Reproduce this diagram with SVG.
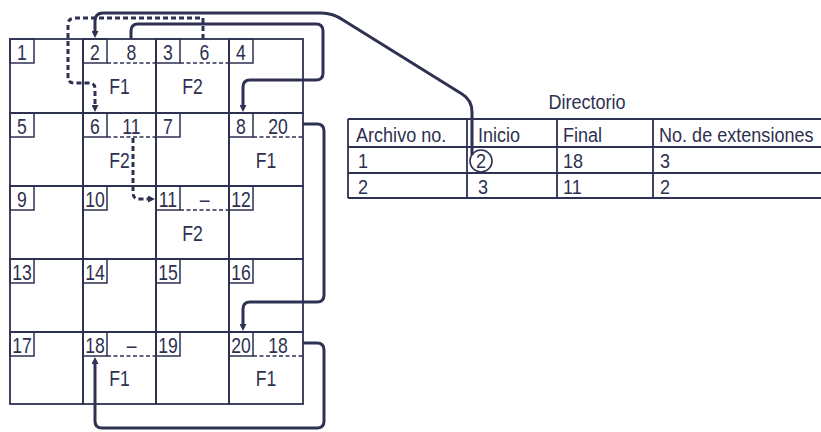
<svg xmlns="http://www.w3.org/2000/svg" width="821" height="432" viewBox="0 0 821 432">
<style>
.bg{fill:#ffffff}
.cell{fill:none;stroke:#2e3152;stroke-width:1.8}
.box{fill:none;stroke:#2e3152;stroke-width:1.5}
.dash{fill:none;stroke:#2e3152;stroke-width:1.5;stroke-dasharray:4 2.5}
.t{font-family:"Liberation Sans",Arial,sans-serif;font-size:22px;fill:#2e3050;text-anchor:middle;transform-box:fill-box;transform-origin:center;transform:scaleX(0.8)}
.ts{font-family:"Liberation Sans",Arial,sans-serif;font-size:21px;fill:#2e3050;text-anchor:start;transform-box:fill-box;transform-origin:left center;transform:scaleX(0.86)}
.tm{font-family:"Liberation Sans",Arial,sans-serif;font-size:21px;fill:#2e3050;text-anchor:middle;transform-box:fill-box;transform-origin:center;transform:scaleX(0.86)}
.tl{fill:none;stroke:#2e3152;stroke-width:1.8}
.conn{fill:none;stroke:#2e3152;stroke-width:3;stroke-linejoin:round}
.conn-d{fill:none;stroke:#2e3152;stroke-width:3;stroke-dasharray:5 3}
</style>
<defs>
<marker id="ah" viewBox="0 0 10 10" refX="0" refY="5" markerWidth="8" markerHeight="7" markerUnits="userSpaceOnUse" orient="auto">
<path d="M0,0 L10,5 L0,10 z" fill="#2e3152"/>
</marker>
</defs>
<rect class="bg" x="0" y="0" width="821" height="432"/>

<g id="cell1"><rect class="cell" x="10" y="39" width="73" height="74"/><rect class="box" x="10" y="39" width="24" height="24"/><text class="t" x="22" y="60">1</text></g>
<g id="cell2"><rect class="cell" x="83" y="39" width="73" height="74"/><rect class="box" x="83" y="39" width="24" height="24"/><text class="t" x="95" y="60">2</text><text class="t" x="131.5" y="60">8</text><line class="dash" x1="107" y1="63" x2="156" y2="63"/><text class="t" x="119.5" y="94">F1</text></g>
<g id="cell3"><rect class="cell" x="156" y="39" width="73" height="74"/><rect class="box" x="156" y="39" width="24" height="24"/><text class="t" x="168" y="60">3</text><text class="t" x="204.5" y="60">6</text><line class="dash" x1="180" y1="63" x2="229" y2="63"/><text class="t" x="192.5" y="94">F2</text></g>
<g id="cell4"><rect class="cell" x="229" y="39" width="74" height="74"/><rect class="box" x="229" y="39" width="24" height="24"/><text class="t" x="241" y="60">4</text></g>

<g id="cell5"><rect class="cell" x="10" y="113" width="73" height="73"/><rect class="box" x="10" y="113" width="24" height="24"/><text class="t" x="22" y="134">5</text></g>
<g id="cell6"><rect class="cell" x="83" y="113" width="73" height="73"/><rect class="box" x="83" y="113" width="24" height="24"/><text class="t" x="95" y="134">6</text><text class="t" x="131.5" y="134">11</text><line class="dash" x1="107" y1="137" x2="156" y2="137"/><text class="t" x="119.5" y="168">F2</text></g>
<g id="cell7"><rect class="cell" x="156" y="113" width="73" height="73"/><rect class="box" x="156" y="113" width="24" height="24"/><text class="t" x="168" y="134">7</text></g>
<g id="cell8"><rect class="cell" x="229" y="113" width="74" height="73"/><rect class="box" x="229" y="113" width="24" height="24"/><text class="t" x="241" y="134">8</text><text class="t" x="278" y="134">20</text><line class="dash" x1="253" y1="137" x2="303" y2="137"/><text class="t" x="266" y="168">F1</text></g>

<g id="cell9"><rect class="cell" x="10" y="186" width="73" height="73"/><rect class="box" x="10" y="186" width="24" height="24"/><text class="t" x="22" y="207">9</text></g>
<g id="cell10"><rect class="cell" x="83" y="186" width="73" height="73"/><rect class="box" x="83" y="186" width="24" height="24"/><text class="t" x="95" y="207">10</text></g>
<g id="cell11"><rect class="cell" x="156" y="186" width="73" height="73"/><rect class="box" x="156" y="186" width="24" height="24"/><text class="t" x="168" y="207">11</text><text class="t" x="204.5" y="207">–</text><line class="dash" x1="180" y1="210" x2="229" y2="210"/><text class="t" x="192.5" y="241">F2</text></g>
<g id="cell12"><rect class="cell" x="229" y="186" width="74" height="73"/><rect class="box" x="229" y="186" width="24" height="24"/><text class="t" x="241" y="207">12</text></g>

<g id="cell13"><rect class="cell" x="10" y="259" width="73" height="73"/><rect class="box" x="10" y="259" width="24" height="24"/><text class="t" x="22" y="280">13</text></g>
<g id="cell14"><rect class="cell" x="83" y="259" width="73" height="73"/><rect class="box" x="83" y="259" width="24" height="24"/><text class="t" x="95" y="280">14</text></g>
<g id="cell15"><rect class="cell" x="156" y="259" width="73" height="73"/><rect class="box" x="156" y="259" width="24" height="24"/><text class="t" x="168" y="280">15</text></g>
<g id="cell16"><rect class="cell" x="229" y="259" width="74" height="73"/><rect class="box" x="229" y="259" width="24" height="24"/><text class="t" x="241" y="280">16</text></g>

<g id="cell17"><rect class="cell" x="10" y="332" width="73" height="72"/><rect class="box" x="10" y="332" width="24" height="24"/><text class="t" x="22" y="353">17</text></g>
<g id="cell18"><rect class="cell" x="83" y="332" width="73" height="72"/><rect class="box" x="83" y="332" width="24" height="24"/><text class="t" x="95" y="353">18</text><text class="t" x="131.5" y="353">–</text><line class="dash" x1="107" y1="356" x2="156" y2="356"/><text class="t" x="119.5" y="386">F1</text></g>
<g id="cell19"><rect class="cell" x="156" y="332" width="73" height="72"/><rect class="box" x="156" y="332" width="24" height="24"/><text class="t" x="168" y="353">19</text></g>
<g id="cell20"><rect class="cell" x="229" y="332" width="74" height="72"/><rect class="box" x="229" y="332" width="24" height="24"/><text class="t" x="241" y="353">20</text><text class="t" x="278" y="353">18</text><line class="dash" x1="253" y1="356" x2="303" y2="356"/><text class="t" x="266" y="386">F1</text></g>

<g id="directorio">
<text class="tm" x="587" y="109">Directorio</text>
<path class="tl" d="M348,119 H821 M348,147 H821 M348,173 H821 M348,198 H821 M348,119 V198 M467,119 V198 M557,119 V198 M653,119 V198"/>
<text class="ts" x="356" y="142">Archivo no.</text>
<text class="ts" x="478" y="142">Inicio</text>
<text class="ts" x="563" y="142">Final</text>
<text class="ts" x="659" y="142">No. de extensiones</text>
<text class="ts" x="358" y="168">1</text>
<circle cx="481" cy="161" r="11" fill="none" stroke="#2e3152" stroke-width="1.6"/>
<text class="tm" x="481" y="168">2</text>
<text class="ts" x="563" y="168">18</text>
<text class="ts" x="660" y="168">3</text>
<text class="ts" x="358" y="194">2</text>
<text class="ts" x="478" y="194">3</text>
<text class="ts" x="563" y="194">11</text>
<text class="ts" x="660" y="194">2</text>
</g>

<g id="connectors">
<path class="conn" marker-end="url(#ah)" d="M472,155 L472,112 Q472,100 462,94 L343,20 Q333,13 321,13 L103,13 Q95,13 95,21 L95,31"/>
<path class="conn" marker-end="url(#ah)" d="M131,39 L131,31 Q131,24 138,24 L316,24 Q323,24 323,31 L323,73 Q323,80 316,80 L250,80 Q243,80 243,87 L243,105"/>
<path class="conn-d" marker-end="url(#ah)" d="M203,39 L203,18 L75,18 Q68,18 68,25 L68,77 Q68,83 74,83 L89,83 Q95,83 95,89 L95,105"/>
<path class="conn-d" marker-end="url(#ah)" d="M133,138 L133,193 Q133,199 139,199 L148,199"/>
<path class="conn" marker-end="url(#ah)" d="M303,124 L317,124 Q324,124 324,131 L324,295 Q324,302 317,302 L250,302 Q243,302 243,309 L243,324"/>
<path class="conn" marker-end="url(#ah)" d="M303,343 L317,343 Q324,343 324,350 L324,421 Q324,428 317,428 L102,428 Q95,428 95,421 L95,364"/>
</g>
</svg>
